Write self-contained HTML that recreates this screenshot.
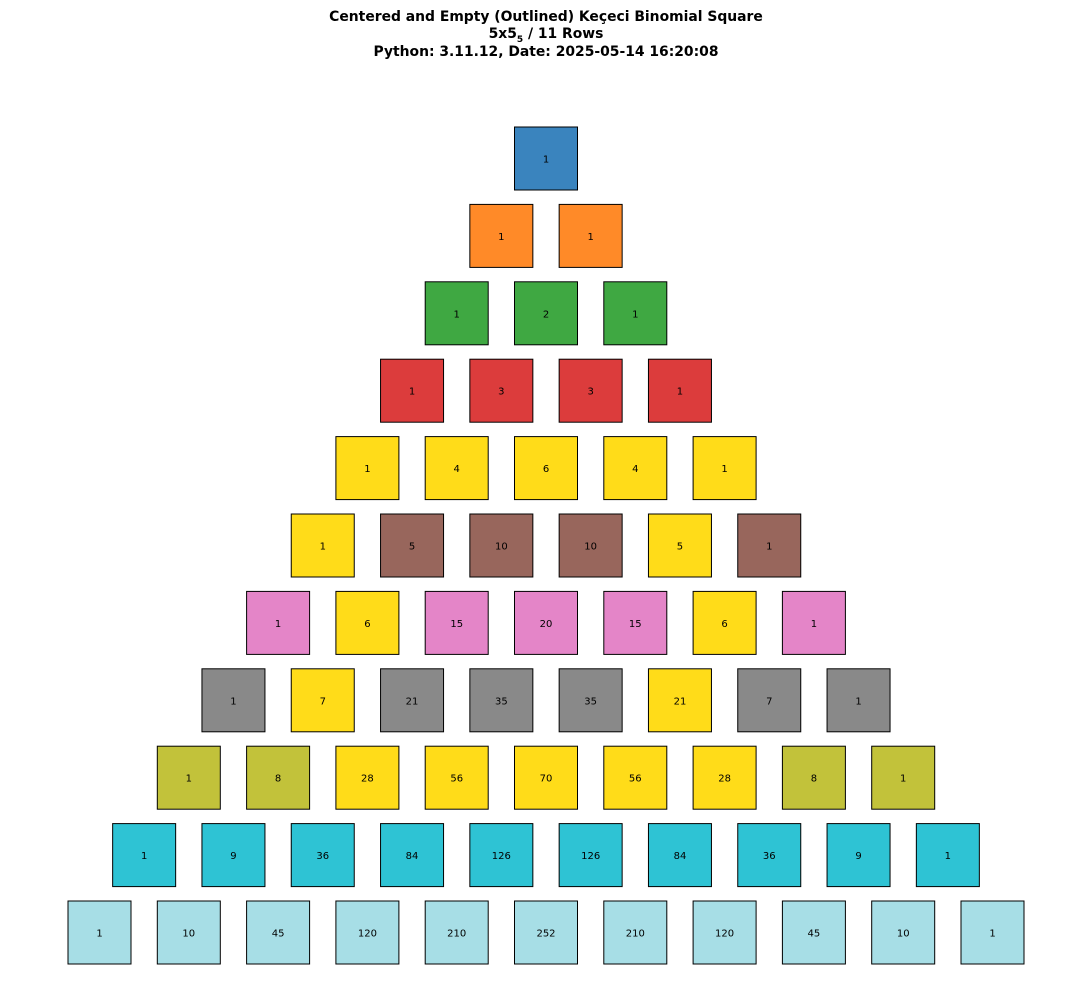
<!DOCTYPE html>
<html><head><meta charset="utf-8"><style>
html,body{margin:0;padding:0;background:#fff;}
body{width:1092px;height:987px;overflow:hidden;font-family:"DejaVu Sans","Liberation Sans",sans-serif;}
.t{position:absolute;left:0;width:1092px;text-align:center;font-weight:bold;font-size:13.9px;color:#000;line-height:16px;}
</style></head><body>
<div class="t" style="top:9px">Centered and Empty (Outlined) Keçeci Binomial Square</div>
<div class="t" style="top:26px">5x5<sub style="font-size:9px">5</sub> / 11 Rows</div>
<div class="t" style="top:44px">Python: 3.11.12, Date: 2025-05-14 16:20:08</div>
<svg id="chart" width="1092" height="987" style="position:absolute;left:0;top:0"></svg>
<script>
const rowValues = [
 [1],[1,1],[1,2,1],[1,3,3,1],[1,4,6,4,1],[1,5,10,10,5,1],
 [1,6,15,20,15,6,1],[1,7,21,35,35,21,7,1],[1,8,28,56,70,56,28,8,1],
 [1,9,36,84,126,126,84,36,9,1],[1,10,45,120,210,252,210,120,45,10,1]
];
const rowColors = ["#3a84be","#ff8a28","#3fa842","#dc3c3c","#ffdc19","#98665c","#e485c8","#898989","#c2c23a","#2ec3d4","#a7dee6"];
const highlight = [
 [0],[0,0],[0,0,0],[0,0,0,0],[1,1,1,1,1],[1,0,0,0,1,0],
 [0,1,0,0,0,1,0],[0,1,0,0,0,1,0,0],[0,0,1,1,1,1,1,0,0],
 [0,0,0,0,0,0,0,0,0,0],[0,0,0,0,0,0,0,0,0,0,0]
];
const highlightColor = "#ffdc19";
const svg = document.getElementById('chart');
const NS = "http://www.w3.org/2000/svg";
const cx0 = 546, dx = 89.3, y0 = 158.5, dy = 77.4, size = 63;
function xPos(r,i){return cx0 + (i - r/2)*dx;}
function yPos(r){return y0 + r*dy;}
rowValues.forEach((row,r)=>{
  row.forEach((v,i)=>{
    const x = xPos(r,i), y = yPos(r);
    const rect = document.createElementNS(NS,'rect');
    
    
    rect.setAttribute('x',x-size/2);rect.setAttribute('y',y-size/2);
    rect.setAttribute('width',size);rect.setAttribute('height',size);
    rect.setAttribute('fill',highlight[r][i]?highlightColor:rowColors[r]);
    rect.setAttribute('stroke','#000');rect.setAttribute('stroke-width','1');
    svg.appendChild(rect);
    const t = document.createElementNS(NS,'text');
    
    
    t.setAttribute('x',x);t.setAttribute('y',y+4);
    t.setAttribute('text-anchor','middle');t.setAttribute('font-size','10');
    t.setAttribute('font-family','DejaVu Sans, Liberation Sans, sans-serif');
    t.textContent = v;
    svg.appendChild(t);
  });
});
</script>
</body></html>
